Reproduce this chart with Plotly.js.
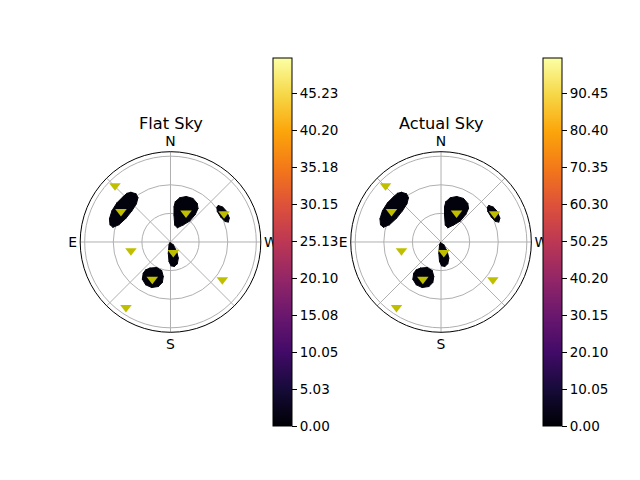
<!DOCTYPE html>
<html>
<head>
<meta charset="utf-8">
<script src="https://cdn.plot.ly/plotly-3.0.1.min.js"></script>
<style>html,body{margin:0;padding:0;background:#fff;}#plot{width:640px;height:480px;}</style>
</head>
<body>
<div id="plot"></div>
<script>
// Source markers (radius = zenith distance, theta = azimuth in degrees)
var srcR     = [82.9, 61.0, 34.4, 63.5, 42.5, 11.4, 43.4, 67.3, 83.1];
var srcTheta = [44.6, 58.4, 331.8, 297.8, 102.6, 194.9, 153.9, 233.9, 145.8];

// Blob outlines (dark low-value regions of the sky map)
var blobAR = [66.6, 62.2, 57.6, 53.7, 52.0, 52.9, 57.0, 62.3, 66.0, 68.5, 69.6, 69.6, 68.8, 68.5];
var blobAT = [38.5, 35.6, 36.3, 41.7, 51.0, 62.0, 71.5, 75.7, 74.1, 69.2, 61.9, 53.8, 46.4, 41.8];
var blobBR = [42.5, 47.4, 50.5, 51.4, 49.2, 45.5, 38.9, 29.8, 22.1, 16.5, 18.3, 28.5, 37.1];
var blobBT = [353.2, 348.2, 340.9, 332.7, 325.2, 320.6, 318.0, 317.4, 323.5, 334.4, 346.0, 352.6, 354.3];
var blobCR = [63.1, 65.9, 67.1, 66.6, 64.1, 61.1, 58.8, 58.6, 60.8];
var blobCT = [307.4, 303.8, 298.5, 292.1, 289.0, 290.6, 296.4, 303.1, 306.9];
var blobDR = [1.0, 4.2, 11.9, 18.8, 24.0, 26.0, 25.0, 20.5, 11.9, 3.3];
var blobDT = [148, 225, 213.1, 205.9, 197.3, 188.8, 181.2, 175.6, 168.8, 151.8];
var blobER = [34.8, 30.4, 31.3, 37.0, 43.4, 48.4, 51.7, 51.9, 48.9, 43.4, 39.1];
var blobET = [141.9, 151.6, 162.8, 168.2, 168.6, 164.7, 157.5, 149.9, 142.8, 138.8, 138.3];

// Colour bar ranges and tick labels
var flatMax = 50.0;
var actualMax = 100.0;
var flatTicks = ['0.00','5.03','10.05','15.08','20.10','25.13','30.15','35.18','40.20','45.23'];
var actualTicks = ['0.00','10.05','20.10','30.15','40.20','50.25','60.30','70.35','80.40','90.45'];
var titles = ['Flat Sky', 'Actual Sky'];
var dirTicks = [0, 45, 90, 135, 180, 225, 270, 315];
var dirText = ['N', '', 'E', '', 'S', '', 'W', ''];

var inferno = [
  [0.0, '#000004'], [0.1, '#160b39'], [0.2, '#420a68'], [0.3, '#6a176e'],
  [0.4, '#932667'], [0.5, '#bc3754'], [0.6, '#dd513a'], [0.7, '#f37819'],
  [0.8, '#fca50a'], [0.9, '#f6d746'], [1.0, '#fcffa4']
];

var blobsR = [blobAR, blobBR, blobCR, blobDR, blobER];
var blobsT = [blobAT, blobBT, blobCT, blobDT, blobET];
var allR = [], allT = [];
for (var i = 0; i < blobsR.length; i++) {
  allR = allR.concat(blobsR[i], [blobsR[i][0], null]);
  allT = allT.concat(blobsT[i], [blobsT[i][0], null]);
}

var FONT = 'DejaVu Sans, sans-serif';

function blobTrace(sub, cmax, ticks, cbx) {
  return {
    type: 'scatterpolar', subplot: sub, r: allR, theta: allT,
    mode: 'lines+markers', fill: 'toself', fillcolor: '#02020c',
    line: {color: '#02020c', width: 1}, connectgaps: false,
    marker: {
      size: 1, color: '#000004', colorscale: inferno, cmin: 0, cmax: cmax,
      showscale: true,
      colorbar: {
        x: cbx, xanchor: 'left', xpad: 0, ypad: 0,
        y: 0.4948, yanchor: 'middle', len: 0.7675, lenmode: 'fraction',
        thickness: 18.5, outlinecolor: '#000', outlinewidth: 1,
        tickmode: 'array', tickvals: ticks.map(parseFloat), ticktext: ticks,
        ticks: 'outside', ticklen: 5, tickcolor: '#000', tickwidth: 1,
        tickfont: {family: FONT, size: 13.5, color: '#000'}
      }
    },
    hoverinfo: 'skip', showlegend: false
  };
}
function srcTrace(sub) {
  return {
    type: 'scatterpolar', subplot: sub, r: srcR, theta: srcTheta, mode: 'markers',
    marker: {symbol: 'triangle-down', size: 10, color: '#bfbf00', line: {width: 0}},
    showlegend: false
  };
}
function polarLayout(xd) {
  return {
    domain: {x: xd, y: [0.3077, 0.684]},
    bgcolor: '#fff',
    radialaxis: {range: [0, 94.7], tickmode: 'array', tickvals: [30, 60, 90],
      showticklabels: false, ticks: '', showline: false,
      gridcolor: '#b0b0b0', gridwidth: 1},
    angularaxis: {rotation: 90, direction: 'counterclockwise',
      tickmode: 'array', tickvals: dirTicks, ticktext: dirText, ticks: '',
      showline: true, linecolor: '#000', linewidth: 1,
      gridcolor: '#b0b0b0', gridwidth: 1,
      tickfont: {family: FONT, size: 13.9, color: '#000'}}
  };
}

var data = [
  blobTrace('polar', flatMax, flatTicks, 272.7 / 640), srcTrace('polar'),
  blobTrace('polar2', actualMax, actualTicks, 542.7 / 640), srcTrace('polar2')
];
var layout = {
  width: 640, height: 480, margin: {l: 0, r: 0, t: 0, b: 0},
  paper_bgcolor: '#fff', showlegend: false,
  font: {family: FONT, color: '#000'},
  polar: polarLayout([0.1253, 0.4075]),
  polar2: polarLayout([0.5480, 0.8302]),
  annotations: [
    {text: titles[0], x: 170.5 / 640, y: 0.721, xref: 'paper', yref: 'paper', borderpad: 0,
     xanchor: 'center', yanchor: 'bottom', showarrow: false, font: {family: FONT, size: 16.2, color: '#000'}},
    {text: titles[1], x: 441 / 640, y: 0.721, xref: 'paper', yref: 'paper', borderpad: 0,
     xanchor: 'center', yanchor: 'bottom', showarrow: false, font: {family: FONT, size: 16.2, color: '#000'}}
  ]
};
Plotly.newPlot('plot', data, layout, {staticPlot: true, displayModeBar: false});
</script>
</body>
</html>
